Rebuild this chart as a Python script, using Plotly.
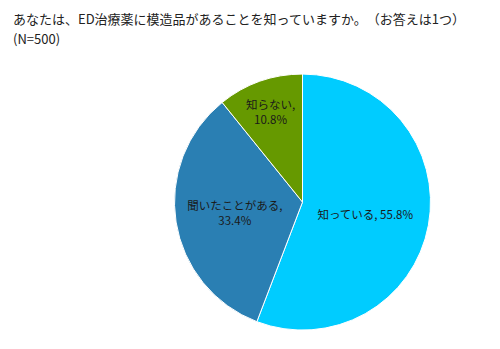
import plotly.graph_objects as go

# Survey answers (N=500)
categories = ["知っている", "聞いたことがある", "知らない"]
shares = [55.8, 33.4, 10.8]
label_texts = ["知っている, 55.8%", "聞いたことがある,<br>33.4%", "知らない,<br>10.8%"]
colors = ["#00CCFF", "#2A7FB3", "#669900"]
title_lines = ["あなたは、ED治療薬に模造品があることを知っていますか。　（お答えは1つ）", "(N=500)"]

fig = go.Figure(
    go.Pie(
        labels=categories,
        values=shares,
        text=label_texts,
        textinfo="text",
        textposition="inside",
        insidetextorientation="horizontal",
        textfont=dict(family="Noto Sans CJK JP", size=11.5, color="#1a1a1a"),
        sort=False,
        direction="clockwise",
        rotation=0,
        marker=dict(colors=colors, line=dict(color="white", width=1)),
        domain=dict(x=[0.349, 0.861], y=[0.054, 0.788]),
        showlegend=False,
        hoverinfo="label+percent",
    )
)

# Question text, one annotation per line
for i, line in enumerate(title_lines):
    fig.add_annotation(
        text=line,
        xref="paper", yref="paper", x=0.022, y=1 - (18 + 20 * i) / 349,
        xanchor="left", yanchor="middle", align="left", showarrow=False,
        font=dict(family="Noto Sans CJK JP", size=13, color="#222222"),
    )

fig.update_layout(
    width=500, height=349,
    margin=dict(l=0, r=0, t=0, b=0),
    paper_bgcolor="white", plot_bgcolor="white",
    uniformtext=dict(minsize=9, mode="show"),
)

fig.write_html("out.html")
